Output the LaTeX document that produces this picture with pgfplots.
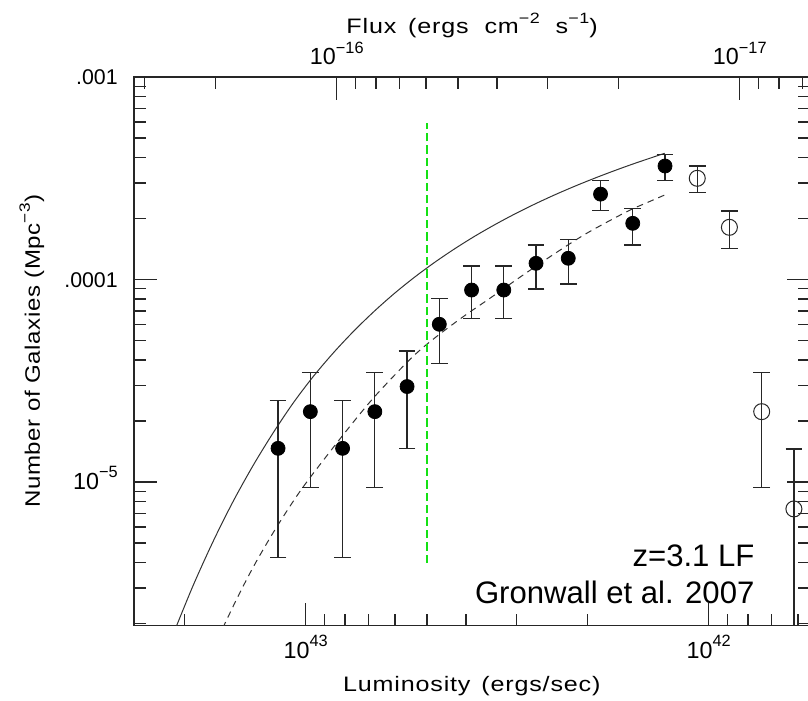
\documentclass[border=0pt]{standalone}
\usepackage{pgfplots}
\pgfplotsset{compat=1.18}
\usepackage{pgfplotstable}
\usepackage{fontspec}
\setmainfont{Liberation Sans}
\newfontfamily\hershey[FakeStretch=1.2,LetterSpace=4]{Liberation Sans}
\newfontfamily\hersheyb[FakeStretch=1.15,LetterSpace=3]{Liberation Sans}
\newcommand\tl[2]{{\fontsize{11.7}{12}\selectfont #1\raisebox{5.85bp}{\fontsize{8.2}{9}\selectfont #2}}}
\newcommand\hsup[1]{\raisebox{5bp}{\fontsize{7.5}{8}\selectfont #1}}
\definecolor{lfgreen}{RGB}{20,225,20}

\pgfplotstableread{
L phi ep em
1.1716e43 1.466e-5 1.054e-5 1.041e-5
9.743e42 2.225e-5 1.255e-5 1.283e-5
8.103e42 1.466e-5 1.054e-5 1.041e-5
6.740e42 2.225e-5 1.255e-5 1.283e-5
5.606e42 2.96e-5 1.47e-5 1.5e-5
4.663e42 6.01e-5 2.06e-5 2.15e-5
3.878e42 8.87e-5 2.79e-5 2.44e-5
3.226e42 8.87e-5 2.79e-5 2.44e-5
2.683e42 1.202e-4 2.78e-5 3.04e-5
2.232e42 1.273e-4 3.06e-5 3.23e-5
1.856e42 2.64e-4 4.4e-5 4.5e-5
1.544e42 1.894e-4 3.52e-5 4.14e-5
1.284e42 3.635e-4 5.15e-5 5.55e-5
}\filled

\pgfplotstableread{
L phi ep em
1.068e42 3.16e-4 4.75e-5 4.6e-5
8.887e41 1.81e-4 3.7e-5 3.9e-5
7.391e41 2.225e-5 1.255e-5 1.283e-5
6.148e41 7.36e-6 7.19e-6 7.26e-6
}\opendata

\pgfplotstableread{
L phi
2.138e43 1.752e-6
1.905e43 3.070e-6
1.698e43 5.089e-6
1.514e43 8.030e-6
1.349e43 1.213e-5
1.202e43 1.762e-5
1.072e43 2.471e-5
9.550e42 3.345e-5
8.511e42 4.377e-5
7.586e42 5.585e-5
6.761e42 6.972e-5
6.026e42 8.537e-5
5.370e42 1.027e-4
4.786e42 1.216e-4
4.266e42 1.420e-4
3.802e42 1.639e-4
3.388e42 1.870e-4
3.020e42 2.113e-4
2.692e42 2.366e-4
2.399e42 2.630e-4
2.138e42 2.902e-4
1.905e42 3.183e-4
1.698e42 3.471e-4
1.514e42 3.767e-4
1.286e42 4.201e-4
}\solidcurve

\pgfplotstableread{
L phi
1.698e43 1.495e-6
1.597e43 1.950e-6
1.458e43 2.836e-6
1.331e43 4.000e-6
1.182e43 5.976e-6
1.0155e43 9.443e-6
8.080e42 1.707e-5
6.808e42 2.588e-5
5.625e42 3.876e-5
5.067e42 4.694e-5
4.519e42 5.615e-5
3.993e42 6.728e-5
3.561e42 7.862e-5
3.227e42 9.016e-5
2.889e42 1.052e-4
2.435e42 1.325e-4
2.012e42 1.688e-4
1.600e42 2.159e-4
1.428e42 2.389e-4
1.286e42 2.614e-4
}\dashedcurve

\begin{document}
\begin{tikzpicture}
\useasboundingbox (0,0) rectangle (404bp,350.5bp);
\begin{axis}[
  at={(67bp,37.65bp)}, anchor=south west,
  scale only axis, width=338bp, height=274.35bp,
  xmode=log, ymode=log, x dir=reverse,
  xmin=5.615e41, xmax=2.672e43, ymin=1.951e-6, ymax=1e-3,
  xtick={1e42,1e43}, xticklabels={\tl{10}{42},\tl{10}{43}},
  minor xtick={6e41,7e41,8e41,9e41,2e42,3e42,4e42,5e42,6e42,7e42,8e42,9e42,2e43},
  ytick={1e-5,1e-4,1e-3},
  yticklabels={\tl{10}{−5},{\fontsize{10.7}{11}\selectfont .0001},{\fontsize{10.7}{11}\selectfont .001}},
  minor ytick={2e-6,3e-6,4e-6,5e-6,6e-6,7e-6,8e-6,9e-6,2e-5,3e-5,4e-5,5e-5,6e-5,7e-5,8e-5,9e-5,2e-4,3e-4,4e-4,5e-4,6e-4,7e-4,8e-4,9e-4},
  xtick pos=lower, ytick pos=both,
  tick align=inside,
  major tick length=11.5bp, minor tick length=6bp,
  tick style={line width=0.7bp, black!85},
  axis line style={line width=0.75bp, black!85},
  xticklabel style={anchor=base, inner sep=0pt, yshift=-16.3bp},
  yticklabel style={anchor=base east, inner sep=0pt, xshift=-7.85bp, yshift=-3.83bp},
  xlabel={\hershey\fontsize{10.5}{12}\selectfont Luminosity\hspace{1.5bp} (ergs/sec)},
  xlabel style={at={(axis description cs:0.5,-0.12028)}, anchor=base},
  ylabel={\hersheyb\fontsize{10.5}{12}\selectfont Number of Galaxies (Mpc\hsup{−3})},
  ylabel style={at={(axis description cs:-0.13905,0.5)}, anchor=base, rotate=0},
]
\addplot[black!80, line width=0.5bp, smooth, tension=0.5] table[x=L, y=phi] {\solidcurve};
\addplot[black!80, line width=0.5bp, smooth, tension=0.5, dash pattern=on 3.3bp off 2.5bp] table[x=L, y=phi] {\dashedcurve};
\addplot[lfgreen, line width=1bp, dash pattern=on 4.2bp off 2bp] coordinates {(5e42,3.98e-6) (5e42,5.93e-4)};
\addplot[black, only marks, mark=*, mark size=3.5bp,
  error bars/.cd, y dir=both, y explicit,
  error bar style={line width=0.6bp, black!85},
  error mark options={rotate=90, mark size=4.2bp, line width=0.6bp, black!85}]
  table[x=L, y=phi, y error plus=ep, y error minus=em] {\filled};
\addplot[black!85, only marks, mark=o, mark size=4bp, mark options={line width=0.5bp},
  error bars/.cd, y dir=both, y explicit,
  error bar style={line width=0.6bp, black!85},
  error mark options={rotate=90, mark size=4.2bp, line width=0.6bp, black!85}]
  table[x=L, y=phi, y error plus=ep, y error minus=em] {\opendata};
\node[anchor=base east, font=\fontsize{15.6}{17}\selectfont, inner sep=0pt] at (axis description cs:0.91864,0.10789) {z=3.1 LF};
\node[anchor=base east, font=\fontsize{15.6}{17}\selectfont, inner sep=0pt] at (axis description cs:0.91864,0.04082) {Gronwall et al. 2007};
\end{axis}
\begin{axis}[
  at={(67bp,37.65bp)}, anchor=south west,
  scale only axis, width=338bp, height=274.35bp,
  xmode=log, x dir=reverse,
  xmin=6.692e-18, xmax=3.184e-16, ymin=0, ymax=1,
  axis x line*=top, axis y line=none,
  xtick={1e-17,1e-16}, xticklabels={\tl{10}{−17},\tl{10}{−16}},
  minor xtick={7e-18,8e-18,9e-18,2e-17,3e-17,4e-17,5e-17,6e-17,7e-17,8e-17,9e-17,2e-16,3e-16},
  tick align=inside,
  major tick length=11.5bp, minor tick length=6bp,
  tick style={line width=0.7bp, black!85},
  axis line style={line width=0.75bp, black!85},
  xticklabel style={anchor=base, inner sep=0pt, yshift=6bp},
  every axis title shift=0pt,
  title={\hershey\fontsize{10.5}{12}\selectfont Flux\hspace{2bp} (ergs\hspace{4bp} cm\hsup{−2}\hspace{4bp} s\hsup{−1})},
  title style={at={(axis description cs:0.5,1.07964)}, anchor=base},
]
\addplot[draw=none] coordinates {(1e-17,0.5)};
\end{axis}
\end{tikzpicture}
\end{document}
